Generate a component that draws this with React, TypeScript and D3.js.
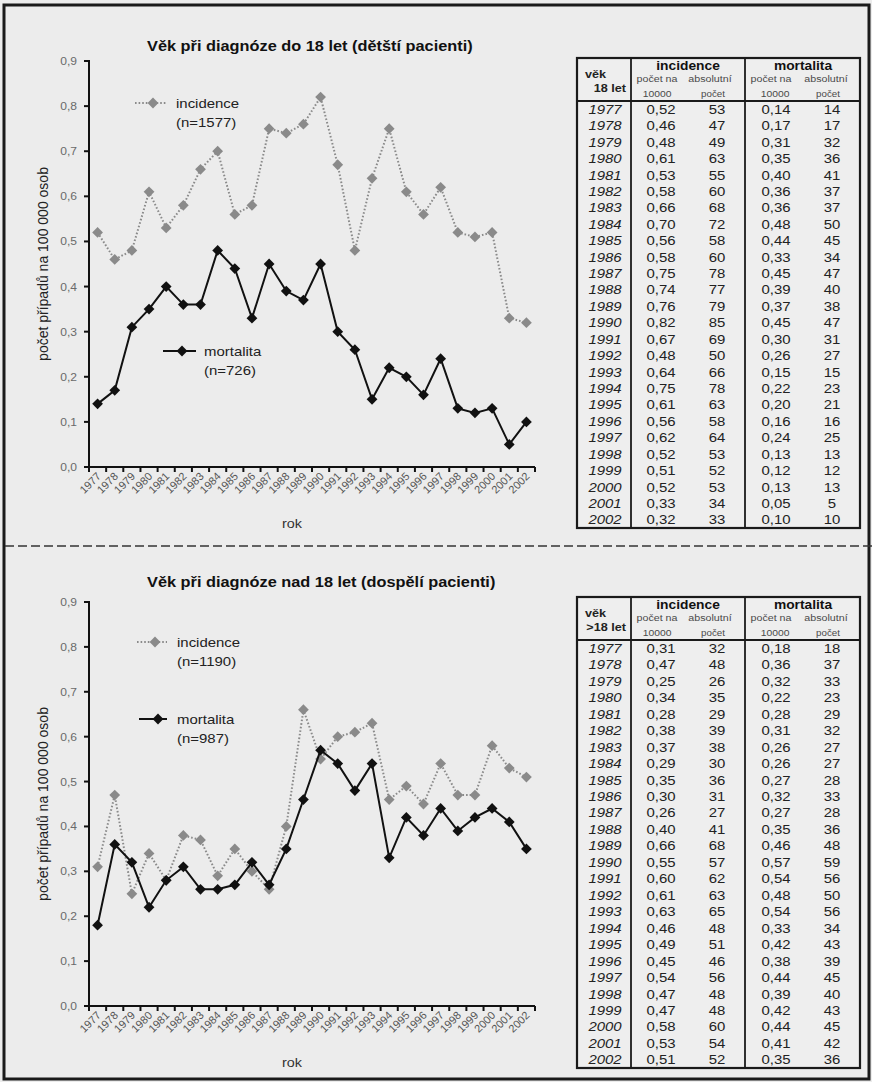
import React from "react";
import * as d3 from "d3";

const FONT = "'Liberation Sans', Arial, Helvetica, sans-serif";
const SX = 1.15;

// categories
const years = [
  1977, 1978, 1979, 1980, 1981, 1982, 1983, 1984, 1985, 1986, 1987, 1988, 1989,
  1990, 1991, 1992, 1993, 1994, 1995, 1996, 1997, 1998, 1999, 2000, 2001, 2002,
];

// children (age at diagnosis up to 18)
const childIncidence = [
  0.52, 0.46, 0.48, 0.61, 0.53, 0.58, 0.66, 0.7, 0.56, 0.58, 0.75, 0.74, 0.76,
  0.82, 0.67, 0.48, 0.64, 0.75, 0.61, 0.56, 0.62, 0.52, 0.51, 0.52, 0.33, 0.32,
];
const childIncidenceCount = [
  53, 47, 49, 63, 55, 60, 68, 72, 58, 60, 78, 77, 79, 85, 69, 50, 66, 78, 63, 58,
  64, 53, 52, 53, 34, 33,
];
const childMortality = [
  0.14, 0.17, 0.31, 0.35, 0.4, 0.36, 0.36, 0.48, 0.44, 0.33, 0.45, 0.39, 0.37,
  0.45, 0.3, 0.26, 0.15, 0.22, 0.2, 0.16, 0.24, 0.13, 0.12, 0.13, 0.05, 0.1,
];
const childMortalityCount = [
  14, 17, 32, 36, 41, 37, 37, 50, 45, 34, 47, 40, 38, 47, 31, 27, 15, 23, 21, 16,
  25, 13, 12, 13, 5, 10,
];

// adults (age at diagnosis over 18)
const adultIncidence = [
  0.31, 0.47, 0.25, 0.34, 0.28, 0.38, 0.37, 0.29, 0.35, 0.3, 0.26, 0.4, 0.66,
  0.55, 0.6, 0.61, 0.63, 0.46, 0.49, 0.45, 0.54, 0.47, 0.47, 0.58, 0.53, 0.51,
];
const adultIncidenceCount = [
  32, 48, 26, 35, 29, 39, 38, 30, 36, 31, 27, 41, 68, 57, 62, 63, 65, 48, 51, 46,
  56, 48, 48, 60, 54, 52,
];
const adultMortality = [
  0.18, 0.36, 0.32, 0.22, 0.28, 0.31, 0.26, 0.26, 0.27, 0.32, 0.27, 0.35, 0.46,
  0.57, 0.54, 0.48, 0.54, 0.33, 0.42, 0.38, 0.44, 0.39, 0.42, 0.44, 0.41, 0.35,
];
const adultMortalityCount = [
  18, 37, 33, 23, 29, 32, 27, 27, 28, 33, 28, 36, 48, 59, 56, 50, 56, 34, 43, 39,
  45, 40, 43, 45, 42, 36,
];

const yTicks = [0, 0.1, 0.2, 0.3, 0.4, 0.5, 0.6, 0.7, 0.8, 0.9];

const fmt2 = (v: number) => d3.format(".2f")(v).replace(".", ",");
const fmt1 = (v: number) => d3.format(".1f")(v).replace(".", ",");

const INC_COLOR = "#8a8a8a";
const MORT_COLOR = "#111";
const BG = "#ececec";

function Txt({
  x,
  y,
  sx = SX,
  anchor = "start",
  size = 12,
  weight = "normal",
  italic = false,
  fill = "#1a1a1a",
  children,
}: any) {
  return (
    <text
      transform={`translate(${x},${y}) scale(${sx},1)`}
      textAnchor={anchor}
      fontSize={size}
      fontWeight={weight}
      fontStyle={italic ? "italic" : "normal"}
      fill={fill}
      fontFamily={FONT}
    >
      {children}
    </text>
  );
}

const diamondPath = d3.symbol(d3.symbolSquare, 58)() as string;

function Diamond({ x, y, fill }: { x: number; y: number; fill: string }) {
  return (
    <path d={diamondPath} transform={`translate(${x},${y}) rotate(45)`} fill={fill} />
  );
}

type LegendItem = { x1: number; x2: number; y: number; mx: number; tx: number; n: string };

function LineChart({
  yTopPx,
  yZeroPx,
  title,
  titleY,
  incidence,
  mortality,
  incLegend,
  mortLegend,
  rokY,
}: {
  yTopPx: number;
  yZeroPx: number;
  title: string;
  titleY: number;
  incidence: number[];
  mortality: number[];
  incLegend: LegendItem;
  mortLegend: LegendItem;
  rokY: number;
}) {
  const left = 89;
  const right = 535;
  const x = d3.scalePoint<number>().domain(years).range([left, right]).padding(0.5);
  const band = d3.scaleBand<number>().domain(years).range([left, right]);
  const y = d3.scaleLinear().domain([0, 0.9]).range([yZeroPx, yTopPx]);
  const line = d3
    .line<number>()
    .x((_, i) => x(years[i]) as number)
    .y((d) => y(d));
  const tickXs = [...years.map((yr) => band(yr) as number), right];

  return (
    <g>
      <Txt x={147} y={titleY} size={14.2} weight="bold" fill="#111">
        {title}
      </Txt>

      {/* y axis */}
      <line x1={left} x2={left} y1={y(0.9) - 1} y2={y(0)} stroke="#111" strokeWidth={2} />
      {yTicks.map((t) => (
        <g key={t}>
          <line x1={left - 5} x2={left} y1={y(t)} y2={y(t)} stroke="#111" strokeWidth={2} />
          <Txt x={77} y={y(t) + 4} anchor="end" size={10.5} fill="#6a6a6a">
            {fmt1(t)}
          </Txt>
        </g>
      ))}
      <text
        transform={`translate(48,${(y(0) + y(0.9)) / 2}) rotate(-90)`}
        textAnchor="middle"
        fontSize={14}
        fontFamily={FONT}
        fill="#222"
      >
        počet případů na 100 000 osob
      </text>

      {/* x axis */}
      <line x1={left} x2={right} y1={y(0)} y2={y(0)} stroke="#111" strokeWidth={2} />
      {tickXs.map((tx, i) => (
        <line key={i} x1={tx} x2={tx} y1={y(0)} y2={y(0) + 5} stroke="#111" strokeWidth={2} />
      ))}
      {years.map((yr) => (
        <text
          key={yr}
          transform={`translate(${(x(yr) as number) + 4},${y(0) + 10}) rotate(-45)`}
          textAnchor="end"
          fontSize={11}
          fontFamily={FONT}
          fill="#555"
        >
          {yr}
        </text>
      ))}
      <Txt x={292} y={rokY} anchor="middle" size={12.5} fill="#333">
        rok
      </Txt>

      {/* incidence series */}
      <path
        d={line(incidence) as string}
        fill="none"
        stroke={INC_COLOR}
        strokeWidth={2}
        strokeDasharray="1.6,2"
      />
      {incidence.map((v, i) => (
        <Diamond key={i} x={x(years[i]) as number} y={y(v)} fill={INC_COLOR} />
      ))}

      {/* mortality series */}
      <path d={line(mortality) as string} fill="none" stroke={MORT_COLOR} strokeWidth={2} />
      {mortality.map((v, i) => (
        <Diamond key={i} x={x(years[i]) as number} y={y(v)} fill={MORT_COLOR} />
      ))}

      {/* legend */}
      <line
        x1={incLegend.x1}
        x2={incLegend.x2}
        y1={incLegend.y}
        y2={incLegend.y}
        stroke={INC_COLOR}
        strokeWidth={2}
        strokeDasharray="1.6,2"
      />
      <Diamond x={incLegend.mx} y={incLegend.y} fill={INC_COLOR} />
      <Txt x={incLegend.tx} y={incLegend.y + 4.5} size={13} fill="#222">
        incidence
      </Txt>
      <Txt x={incLegend.tx} y={incLegend.y + 23.5} size={13} fill="#222">
        {incLegend.n}
      </Txt>

      <line
        x1={mortLegend.x1}
        x2={mortLegend.x2}
        y1={mortLegend.y}
        y2={mortLegend.y}
        stroke={MORT_COLOR}
        strokeWidth={2}
      />
      <Diamond x={mortLegend.mx} y={mortLegend.y} fill={MORT_COLOR} />
      <Txt x={mortLegend.tx} y={mortLegend.y + 4.5} size={13} fill="#222">
        mortalita
      </Txt>
      <Txt x={mortLegend.tx} y={mortLegend.y + 23.5} size={13} fill="#222">
        {mortLegend.n}
      </Txt>
    </g>
  );
}

function DataTable({
  top,
  bottom,
  ageLabel,
  incidence,
  incidenceCount,
  mortality,
  mortalityCount,
}: {
  top: number;
  bottom: number;
  ageLabel: string;
  incidence: number[];
  incidenceCount: number[];
  mortality: number[];
  mortalityCount: number[];
}) {
  const left = 577;
  const right = 860;
  const c1 = 631;
  const c2 = 745;
  const headerBottom = top + 43;
  const rows = d3.scaleBand<number>().domain(years).range([headerBottom, bottom]);
  const half = rows.bandwidth() / 2;
  const cols = { year: 605, inc: 661, incN: 717, mort: 776, mortN: 832 };
  const sub = "#4a4a4a";

  return (
    <g>
      <rect x={left} y={top} width={right - left} height={bottom - top} fill="#eeeeee" stroke="#1a1a1a" strokeWidth={2.2} />
      <line x1={left} x2={right} y1={headerBottom} y2={headerBottom} stroke="#1a1a1a" strokeWidth={2.2} />
      <line x1={c1} x2={c1} y1={top} y2={bottom} stroke="#1a1a1a" strokeWidth={1.8} />
      <line x1={c2} x2={c2} y1={top} y2={bottom} stroke="#1a1a1a" strokeWidth={1.8} />

      <Txt x={585} y={top + 20} size={11} weight="bold" fill="#222">
        věk
      </Txt>
      <Txt x={626} y={top + 34} anchor="end" size={11} weight="bold" fill="#222">
        {ageLabel}
      </Txt>

      <Txt x={688} y={top + 12} anchor="middle" size={12} weight="bold" fill="#111">
        incidence
      </Txt>
      <Txt x={657} y={top + 24} anchor="middle" size={9.3} fill={sub}>
        počet na
      </Txt>
      <Txt x={710} y={top + 24} anchor="middle" size={9.3} fill={sub}>
        absolutní
      </Txt>
      <Txt x={657} y={top + 39} anchor="middle" size={9} fill={sub}>
        10000
      </Txt>
      <Txt x={713} y={top + 39} anchor="middle" size={8.5} fill={sub}>
        počet
      </Txt>

      <Txt x={803} y={top + 12} anchor="middle" size={12} weight="bold" fill="#111">
        mortalita
      </Txt>
      <Txt x={771} y={top + 24} anchor="middle" size={9.3} fill={sub}>
        počet na
      </Txt>
      <Txt x={826} y={top + 24} anchor="middle" size={9.3} fill={sub}>
        absolutní
      </Txt>
      <Txt x={775} y={top + 39} anchor="middle" size={9} fill={sub}>
        10000
      </Txt>
      <Txt x={828} y={top + 39} anchor="middle" size={8.5} fill={sub}>
        počet
      </Txt>

      {years.map((yr, i) => {
        const cy = (rows(yr) as number) + half + 4.6;
        return (
          <g key={yr}>
            <Txt x={cols.year} y={cy} anchor="middle" size={13} italic fill="#222">
              {yr}
            </Txt>
            <Txt x={cols.inc} y={cy} anchor="middle" size={13} fill="#222">
              {fmt2(incidence[i])}
            </Txt>
            <Txt x={cols.incN} y={cy} anchor="middle" size={13} fill="#222">
              {incidenceCount[i]}
            </Txt>
            <Txt x={cols.mort} y={cy} anchor="middle" size={13} fill="#222">
              {fmt2(mortality[i])}
            </Txt>
            <Txt x={cols.mortN} y={cy} anchor="middle" size={13} fill="#222">
              {mortalityCount[i]}
            </Txt>
          </g>
        );
      })}
    </g>
  );
}

export default function App() {
  const W = 872;
  const H = 1082;
  return (
    <svg
      width={W}
      height={H}
      viewBox={`0 0 ${W} ${H}`}
      style={{ position: "absolute", left: 0, top: 0, background: BG }}
    >
      <rect x={0} y={0} width={W} height={H} fill={BG} />
      <rect x={4} y={5} width={865} height={1074} fill="none" stroke="#1a1a1a" strokeWidth={3} />

      <LineChart
        yTopPx={61}
        yZeroPx={467}
        title="Věk při diagnóze do 18 let (dětští pacienti)"
        titleY={51}
        incidence={childIncidence}
        mortality={childMortality}
        incLegend={{ x1: 135, x2: 166, y: 103, mx: 153, tx: 176, n: "(n=1577)" }}
        mortLegend={{ x1: 163, x2: 196, y: 351, mx: 182, tx: 204, n: "(n=726)" }}
        rokY={528}
      />
      <DataTable
        top={58}
        bottom={528}
        ageLabel="18 let"
        incidence={childIncidence}
        incidenceCount={childIncidenceCount}
        mortality={childMortality}
        mortalityCount={childMortalityCount}
      />

      <line x1={5} x2={872} y1={546} y2={546} stroke="#333" strokeWidth={1.6} strokeDasharray="9,4" />

      <LineChart
        yTopPx={602}
        yZeroPx={1006}
        title="Věk při diagnóze nad 18 let (dospělí pacienti)"
        titleY={587}
        incidence={adultIncidence}
        mortality={adultMortality}
        incLegend={{ x1: 137, x2: 167, y: 642, mx: 155, tx: 177, n: "(n=1190)" }}
        mortLegend={{ x1: 139, x2: 167, y: 719, mx: 158, tx: 177, n: "(n=987)" }}
        rokY={1067}
      />
      <DataTable
        top={597}
        bottom={1068}
        ageLabel=">18 let"
        incidence={adultIncidence}
        incidenceCount={adultIncidenceCount}
        mortality={adultMortality}
        mortalityCount={adultMortalityCount}
      />
    </svg>
  );
}
